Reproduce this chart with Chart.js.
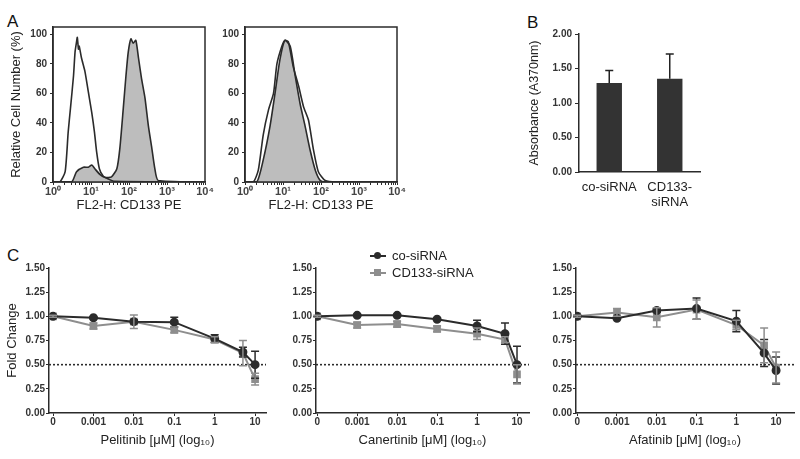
<!DOCTYPE html>
<html>
<head>
<meta charset="utf-8">
<script src="https://cdn.jsdelivr.net/npm/chart.js@4.4.1/dist/chart.umd.min.js"></script>
<style>
  body { margin: 0; background: #fff; font-family: "Liberation Sans", Arial, sans-serif; }
  #wrap { position: relative; width: 800px; height: 459px; overflow: hidden; background: #fff; }
  canvas { position: absolute; }
  .tag { position: absolute; font-size: 17px; line-height: 17px; color: #111; }
  .lg { position: absolute; font-size: 13px; line-height: 14px; color: #222; white-space: nowrap; }
  .lg i { position: absolute; display: block; }
</style>
</head>
<body>
<div id="wrap">
  <div class="tag" style="left:7px;top:13px">A</div>
  <div class="tag" style="left:527px;top:14px">B</div>
  <div class="tag" style="left:7px;top:247px">C</div>

  <canvas id="flowA1" width="215" height="215" style="left:0;top:0"></canvas>
  <canvas id="flowA2" width="215" height="215" style="left:192px;top:0"></canvas>
  <canvas id="absB" width="191" height="214" style="left:519px;top:0"></canvas>
  <canvas id="doseC1" width="272" height="229" style="left:0;top:230px"></canvas>
  <canvas id="doseC2" width="268" height="229" style="left:267px;top:230px"></canvas>
  <canvas id="doseC3" width="273" height="229" style="left:527px;top:230px"></canvas>

  <div id="legendC" style="position:absolute;left:368px;top:249px;width:130px;height:36px"></div>
</div>

<script>
; (() => {
    "use strict";

    // ---- panel A: flow histograms (x = log10 of FL2-H, y = % of max) ----
    const a1OpenLog  = [0, 0.18, 0.32, 0.40, 0.46, 0.54, 0.58, 0.62, 0.64, 0.67, 0.69, 0.75, 0.84, 0.93, 1.02, 1.09, 1.15, 1.22, 1.32, 1.46, 1.60, 4];
    const a1Open     = [0, 0, 7, 34, 50, 72, 88, 95, 98, 90, 92, 84, 75, 61, 47, 34, 20, 9, 4, 2, 0.5, 0];
    const a1GrayLog  = [0, 0.49, 0.62, 0.80, 0.93, 1.02, 1.10, 1.24, 1.37, 1.54, 1.68, 1.76, 1.85, 1.92, 1.98, 2.05, 2.11, 2.18, 2.25, 2.33, 2.42, 2.51, 2.60, 2.68, 2.77, 4];
    const a1Gray     = [0, 0, 7, 10, 10, 11.5, 9, 5, 3, 3.5, 9, 23, 50, 72, 88, 97, 94, 96, 84, 70, 57, 38, 23, 9, 1, 0];

    const a2OpenLog  = [0, 0.22, 0.35, 0.48, 0.62, 0.75, 0.84, 0.97, 1.05, 1.14, 1.27, 1.41, 1.54, 1.67, 1.80, 1.93, 2.11, 2.40, 4];
    const a2Open     = [0, 0, 8, 32, 49, 60, 80, 92, 96, 95, 78, 65, 51, 42, 22, 7, 1, 0, 0];
    const a2GrayLog  = [0, 0.31, 0.48, 0.66, 0.79, 0.92, 1.05, 1.19, 1.32, 1.45, 1.58, 1.71, 1.85, 1.98, 2.11, 4];
    const a2Gray     = [0, 0, 15, 38, 60, 83, 96, 92, 72, 53, 38, 22, 8, 1, 0, 0];

    const flowTickLabels = ['10⁰', '10¹', '10²', '10³', '10⁴'];

    // ---- panel B: absorbance ----
    const absLabels = ['co-siRNA', ['CD133-', 'siRNA']];
    const absValues = [1.29, 1.35];
    const absErrors = [0.18, 0.36];

    // ---- panel C: dose response ----
    const doseUM     = [0, 0.001, 0.01, 0.1, 1, 5, 10];
    const doseTicks  = [0, 0.001, 0.01, 0.1, 1, 10];
    const seriesNames = ['co-siRNA', 'CD133-siRNA'];

    const pelCo      = [1.00, 0.985, 0.945, 0.94, 0.77, 0.63, 0.50];
    const pelCoErr   = [0, 0.01, 0.02, 0.05, 0.04, 0.05, 0.14];
    const pelKd      = [1.00, 0.90, 0.945, 0.86, 0.76, 0.62, 0.35];
    const pelKdErr   = [0.01, 0.03, 0.07, 0.03, 0.03, 0.13, 0.06];

    const canCo      = [1.00, 1.01, 1.01, 0.97, 0.90, 0.82, 0.50];
    const canCoErr   = [0, 0.01, 0.01, 0.01, 0.06, 0.11, 0.19];
    const canKd      = [1.00, 0.91, 0.92, 0.87, 0.82, 0.76, 0.40];
    const canKdErr   = [0.01, 0.03, 0.03, 0.03, 0.06, 0.03, 0.10];

    const afaCo      = [1.00, 0.98, 1.06, 1.08, 0.95, 0.62, 0.44];
    const afaCoErr   = [0.01, 0.01, 0.02, 0.11, 0.11, 0.14, 0.14];
    const afaKd      = [1.00, 1.04, 0.99, 1.07, 0.91, 0.70, 0.47];
    const afaKdErr   = [0.01, 0.04, 0.10, 0.10, 0.05, 0.18, 0.16];

    const halfLine = 0.5;

    const ink = '#2b2b2b';
    const grey = '#8e8e8e';
    const fillGrey = '#bdbdbd';
    const tickFont = { size: 10, weight: 'bold' };
    const titleFont = { size: 13 };

    Chart.defaults.font.family = "'Liberation Sans', Arial, sans-serif";
    Chart.defaults.color = '#333';

    const toAxis = d => d === 0 ? -4 : Math.log10(d);

    // error bars, drawn with the chart's own y scale
    const errorBars = {
        id: 'errorBars',
        afterDatasetsDraw(chart) {
            const ctx = chart.ctx;
            const ys = chart.scales.y;
            chart.data.datasets.forEach((ds, i) => {
                if (!ds.errors) return;
                const meta = chart.getDatasetMeta(i);
                const cap = ds.capWidth || 4;
                ctx.save();
                ctx.strokeStyle = ds.errorColor || ds.borderColor;
                ctx.lineWidth = 1.5;
                meta.data.forEach((el, j) => {
                    const e = ds.errors[j];
                    if (!e) return;
                    const raw = ds.data[j];
                    const v = typeof raw === 'object' ? raw.y : raw;
                    const top = ys.getPixelForValue(v + e);
                    const bot = ys.getPixelForValue(ds.upOnly ? v : v - e);
                    ctx.beginPath();
                    ctx.moveTo(el.x, top); ctx.lineTo(el.x, bot);
                    ctx.moveTo(el.x - cap, top); ctx.lineTo(el.x + cap, top);
                    if (!ds.upOnly) {
                        ctx.moveTo(el.x - cap, bot); ctx.lineTo(el.x + cap, bot);
                    }
                    ctx.stroke();
                });
                ctx.restore();
            });
        }
    };

    // dotted 50% line
    const cutoff = {
        id: 'cutoff',
        beforeDatasetsDraw(chart, args, opts) {
            if (opts.value === undefined) return;
            const { ctx, chartArea } = chart;
            const y = chart.scales.y.getPixelForValue(opts.value);
            ctx.save();
            ctx.strokeStyle = ink;
            ctx.lineWidth = 1.6;
            ctx.setLineDash([2, 2]);
            ctx.beginPath();
            ctx.moveTo(chartArea.left, y);
            ctx.lineTo(chartArea.right, y);
            ctx.stroke();
            ctx.restore();
        }
    };

    // box around the histogram plots
    const frame = {
        id: 'frame',
        afterDraw(chart) {
            const { ctx, chartArea: a } = chart;
            ctx.save();
            ctx.strokeStyle = ink;
            ctx.lineWidth = 1.5;
            ctx.strokeRect(a.left, a.top, a.right - a.left, a.bottom - a.top);
            ctx.restore();
        }
    };

    function pts(xs, ys) {
        return xs.map((x, i) => ({ x: x, y: ys[i] }));
    }

    function flowChart(id, openL, openY, grayL, grayY, yTitle) {
        const minor = [];
        for (let k = 0; k < 4; k++) {
            for (let m = 1; m < 10; m++) minor.push(k + Math.log10(m));
        }
        minor.push(4);

        new Chart(document.getElementById(id), {
            type: 'line',
            data: {
                datasets: [{
                    data: pts(openL, openY),
                    borderColor: ink,
                    borderWidth: 1.6,
                    fill: false,
                    pointRadius: 0,
                    tension: 0.2
                }, {
                    data: pts(grayL, grayY),
                    borderColor: ink,
                    borderWidth: 1.6,
                    backgroundColor: fillGrey,
                    fill: 'origin',
                    pointRadius: 0,
                    tension: 0.2
                }]
            },
            options: {
                responsive: false,
                animation: false,
                layout: { padding: { top: 27, right: 10, left: 0, bottom: 0 } },
                plugins: { legend: { display: false }, tooltip: { enabled: false } },
                scales: {
                    x: {
                        type: 'linear',
                        min: 0,
                        max: 4,
                        afterFit: s => { s.height = 33; },
                        afterBuildTicks: s => { s.ticks = minor.map(v => ({ value: v })); },
                        ticks: {
                            autoSkip: false,
                            maxRotation: 0,
                            padding: 0,
                            font: { size: 11, weight: 'bold' },
                            color: '#444',
                            callback: v => Number.isInteger(v) ? flowTickLabels[v] : ''
                        },
                        grid: { drawOnChartArea: false, tickLength: 3, color: ink },
                        border: { color: ink, width: 1.5 },
                        title: { display: true, text: 'FL2-H: CD133 PE', font: titleFont, color: '#222', padding: { top: 0, bottom: 2 } }
                    },
                    y: {
                        min: 0,
                        max: 105,
                        afterFit: s => { s.width = 53; },
                        ticks: { stepSize: 20, includeBounds: false, font: tickFont, padding: 3 },
                        grid: { drawOnChartArea: false, tickLength: 3, color: ink },
                        border: { color: ink, width: 1.5 },
                        title: { display: !!yTitle, text: yTitle || '', font: titleFont, color: '#222', padding: { top: 9, bottom: 0 } }
                    }
                }
            },
            plugins: [frame]
        });
    }

    flowChart('flowA1', a1OpenLog, a1Open, a1GrayLog, a1Gray, 'Relative Cell Number (%)');
    flowChart('flowA2', a2OpenLog, a2Open, a2GrayLog, a2Gray, null);

    new Chart(document.getElementById('absB'), {
        type: 'bar',
        data: {
            labels: absLabels,
            datasets: [{
                data: absValues,
                errors: absErrors,
                upOnly: true,
                capWidth: 4,
                backgroundColor: '#333333',
                borderColor: '#222',
                errorColor: '#222',
                borderWidth: 0,
                barPercentage: 0.42,
                categoryPercentage: 1
            }]
        },
        options: {
            responsive: false,
            animation: false,
            layout: { padding: { top: 34, right: 10, left: 0, bottom: 0 } },
            plugins: { legend: { display: false }, tooltip: { enabled: false } },
            scales: {
                x: {
                    afterFit: s => { s.height = 42; },
                    ticks: { font: { size: 13, lineHeight: 1.15 }, color: '#222', padding: 0, maxRotation: 0 },
                    grid: { display: false },
                    border: { color: ink, width: 1.5 }
                },
                y: {
                    min: 0,
                    max: 2,
                    afterFit: s => { s.width = 60; },
                    ticks: { stepSize: 0.5, font: tickFont, padding: 3, callback: v => v.toFixed(2) },
                    grid: { drawOnChartArea: false, tickLength: 4, color: ink },
                    border: { color: ink, width: 1.5 },
                    title: { display: true, text: 'Absorbance (A370nm)', font: { size: 12.5 }, color: '#222', padding: { top: 8, bottom: 0 } }
                }
            }
        },
        plugins: [errorBars]
    });

    function doseChart(id, drug, co, coErr, kd, kdErr, xMin, xMax, yTitle) {
        new Chart(document.getElementById(id), {
            type: 'line',
            data: {
                datasets: [{
                    label: seriesNames[0],
                    data: pts(doseUM.map(toAxis), co),
                    errors: coErr,
                    borderColor: ink,
                    backgroundColor: ink,
                    borderWidth: 2,
                    pointStyle: 'circle',
                    pointRadius: 3.5,
                    tension: 0
                }, {
                    label: seriesNames[1],
                    data: pts(doseUM.map(toAxis), kd),
                    errors: kdErr,
                    borderColor: grey,
                    backgroundColor: grey,
                    borderWidth: 2,
                    pointStyle: 'rect',
                    pointRadius: 4,
                    tension: 0
                }]
            },
            options: {
                responsive: false,
                animation: false,
                layout: { padding: { top: 38, right: 4, left: 0, bottom: 7 } },
                plugins: {
                    legend: { display: false },
                    tooltip: { enabled: false },
                    cutoff: { value: halfLine }
                },
                scales: {
                    x: {
                        type: 'linear',
                        min: xMin,
                        max: xMax,
                        afterFit: s => { s.height = 39; },
                        afterBuildTicks: s => { s.ticks = doseTicks.map(d => ({ value: toAxis(d) })); },
                        ticks: {
                            autoSkip: false,
                            maxRotation: 0,
                            padding: 0,
                            font: tickFont,
                            callback: (v, i) => String(doseTicks[i])
                        },
                        grid: { drawOnChartArea: false, tickLength: 3, color: ink },
                        border: { color: ink, width: 1.5 },
                        title: { display: true, text: drug + ' [μM] (log₁₀)', font: titleFont, color: '#222', padding: { top: 0, bottom: 4 } }
                    },
                    y: {
                        min: 0,
                        max: 1.5,
                        afterFit: s => { s.width = 49; },
                        ticks: { stepSize: 0.25, font: tickFont, padding: 1, callback: v => v.toFixed(2) },
                        grid: { drawOnChartArea: false, tickLength: 3, color: ink },
                        border: { color: ink, width: 1.5 },
                        title: { display: !!yTitle, text: yTitle || '', font: titleFont, color: '#222', padding: { top: 5, bottom: 0 } }
                    }
                }
            },
            plugins: [cutoff, errorBars]
        });
    }

    doseChart('doseC1', 'Pelitinib', pelCo, pelCoErr, pelKd, pelKdErr, -4.1, 1.27, 'Fold Change');
    doseChart('doseC2', 'Canertinib', canCo, canCoErr, canKd, canKdErr, -4.03, 1.3, null);
    doseChart('doseC3', 'Afatinib', afaCo, afaCoErr, afaKd, afaKdErr, -4.03, 1.45, null);

    // legend for panel C (shared by all three plots)
    const legend = document.getElementById('legendC');
    [[ink, '50%'], [grey, '0']].forEach((st, i) => {
        const row = document.createElement('div');
        row.className = 'lg';
        row.style.left = '0px';
        row.style.top = (i * 17) + 'px';
        row.style.paddingLeft = '24px';
        row.textContent = seriesNames[i];
        const line = document.createElement('i');
        line.style.cssText = 'left:2px;top:6px;width:16px;height:2px;background:' + st[0];
        const mark = document.createElement('i');
        mark.style.cssText = 'left:6px;top:3px;width:7px;height:7px;border-radius:' + st[1] + ';background:' + st[0];
        row.appendChild(line);
        row.appendChild(mark);
        legend.appendChild(row);
    });

})();
</script>
</body>
</html>
